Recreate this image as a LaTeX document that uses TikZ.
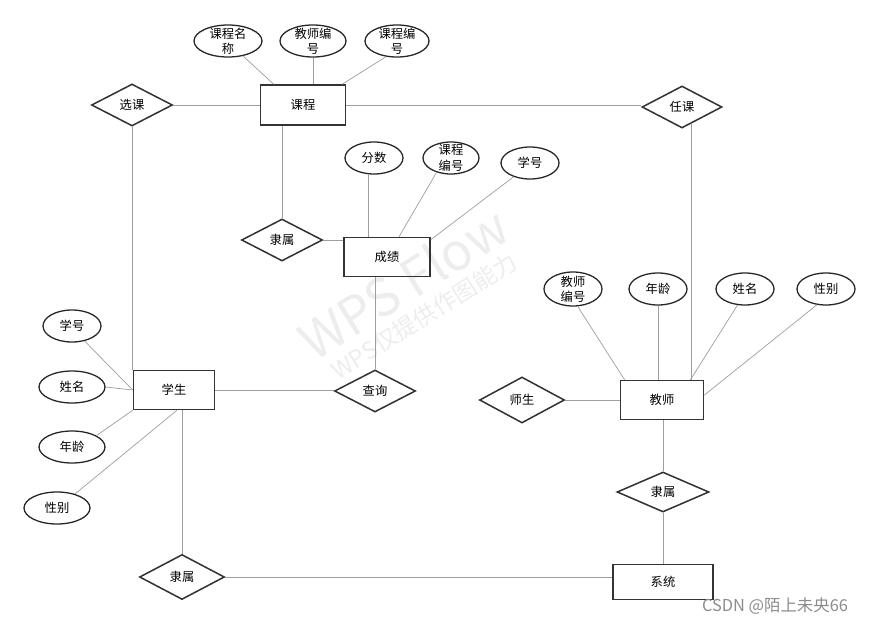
\documentclass[tikz,border=0pt]{standalone}
\usepackage{fontspec}
\setmainfont{Noto Sans CJK SC}
\usetikzlibrary{shapes.geometric,calc}

\begin{document}
\begin{tikzpicture}[x=0.3mm, y=-0.3mm,
  ent/.style={rectangle, draw=black!80, line width=1.3pt,
    minimum width=25mm, minimum height=11.7mm, inner sep=0pt,
    font=\fontsize{10.5}{13}\selectfont},
  rel/.style={diamond, draw=black!80, line width=1.3pt,
    minimum width=24.3mm, minimum height=12.6mm, inner sep=0pt,
    font=\fontsize{10.5}{13}\selectfont},
  attr/.style={ellipse, draw=black!85, line width=1.1pt,
    minimum width=17.4mm, minimum height=9.6mm, inner sep=0pt,
    align=center, font=\fontsize{10.5}{13}\selectfont},
  twoline/.style={inner ysep=-3pt},
  conn/.style={draw=black!38, line width=0.6pt},
  wmark/.style={text=black!7, rotate=32}
]
\useasboundingbox (0,0) rectangle (879,625);

% watermark
\node[wmark, font=\fontsize{44}{44}\selectfont] (wm1) at (403,283) {WPS Flow};
\node[wmark, font=\fontsize{20}{20}\selectfont] (wm2) at (424,316) {WPS仅提供作图能力};

% entities
\node[ent, minimum width=25.5mm, minimum height=12mm] (kc) at (303,105) {课程};
\node[ent, minimum width=25.8mm] (cj) at (387,257) {成绩};
\node[ent, minimum width=24.3mm] (xs) at (174,390) {学生};
\node[ent] (js) at (662,400) {教师};
\node[ent, minimum width=30mm, minimum height=10.5mm] (xt) at (663,582) {系统};

% relations
\node[rel] (xk) at (132,105) {选课};
\node[rel, minimum width=24mm] (rk) at (682,107) {任课};
\node[rel] (ls1) at (282,240) {隶属};
\node[rel] (cx) at (375,391) {查询};
\node[rel, minimum width=25.5mm, minimum height=13.8mm] (ss) at (522,400) {师生};
\node[rel, minimum width=27.6mm, minimum height=12mm] (ls2) at (663,492) {隶属};
\node[rel, minimum width=25.5mm, minimum height=13.5mm] (ls3) at (182,577) {隶属};

% attributes of 课程
\node[attr, minimum width=20.4mm, twoline] (kcmc) at (228,41) {课程名\\称};
\node[attr, minimum width=19.8mm, twoline] (kcjsbh) at (313,41) {教师编\\号};
\node[attr, minimum width=19.2mm, twoline] (kckcbh) at (397,41) {课程编\\号};
% attributes of 成绩
\node[attr] (fs) at (374,158) {分数};
\node[attr, minimum width=16.8mm, twoline] (cjkcbh) at (451,158) {课程\\编号};
\node[attr] (cjxh) at (530,163) {学号};
% attributes of 学生
\node[attr] (xsxh) at (72,326) {学号};
\node[attr, minimum width=19.8mm] (xsxm) at (72,387) {姓名};
\node[attr, minimum width=19.8mm] (xsnl) at (72,447) {年龄};
\node[attr, minimum width=19.8mm] (xsxb) at (57,508) {性别};
% attributes of 教师
\node[attr, minimum height=10.2mm, twoline] (jsbh) at (573,289) {教师\\编号};
\node[attr] (jsnl) at (658,289) {年龄};
\node[attr] (jsxm) at (745,289) {姓名};
\node[attr] (jsxb) at (826,289) {性别};

% connectors
\draw[conn] (xk) -- (kc);
\draw[conn] (xk.south) -- (xk.south |- xs.north);
\draw[conn] (kc.east) -- (kc.east -| rk.west);
\draw[conn] (rk.-61) -- (rk.-61 |- js.north);
\draw[conn] (ls1.north) -- (ls1.north |- kc.south);
\draw[conn] (ls1.east) -- (ls1.east -| cj.west);
\draw[conn] (kcmc.-45) -- ($(kc.north west)+(14,0)$);
\draw[conn] (kcjsbh.south) -- (kcjsbh.south |- kc.north);
\draw[conn] (kckcbh.-125) -- ($(kc.north east)+(-4,0)$);
\draw[conn] (fs.250) -- (fs.250 |- cj.north);
\draw[conn] (cjkcbh.225) -- ($(cj.north)+(12,0)$);
\draw[conn] (cjxh.220) -- ($(cj.north east)+(0,3)$);
\draw[conn] (cx.north) -- (cx.north |- cj.south);
\draw[conn] (xs.east) -- (xs.east -| cx.west);
\draw[conn] (xsxh.-50) -- (xs.west);
\draw[conn] (xsxm.east) -- (xs.west);
\draw[conn] (xsnl.25) -- (xs.south west);
\draw[conn] (xsxb.38) -- ($(xs.south)+(3,0)$);
\draw[conn] (ls3.north) -- (ls3.north |- xs.south);
\draw[conn] (ls3.east) -- (ls3.east -| xt.west);
\draw[conn] (xt.north) -- (ls2.south);
\draw[conn] (ls2.north) -- (ls2.north |- js.south);
\draw[conn] (ss.east) -- (ss.east -| js.west);
\draw[conn] (jsbh.-75) -- ($(js.north west)+(5,0)$);
\draw[conn] (jsnl.south) -- (jsnl.south |- js.north);
\draw[conn] (jsxm.-115) -- ($(js.north east)+(-14,0)$);
\draw[conn] (jsxb.-120) -- ($(js.east)+(0,-5)$);

% source mark
\node[text=black!45, font=\fontsize{14}{14}\selectfont] (csdn) at (775,606) {CSDN @陌上未央66};
\end{tikzpicture}
\end{document}
